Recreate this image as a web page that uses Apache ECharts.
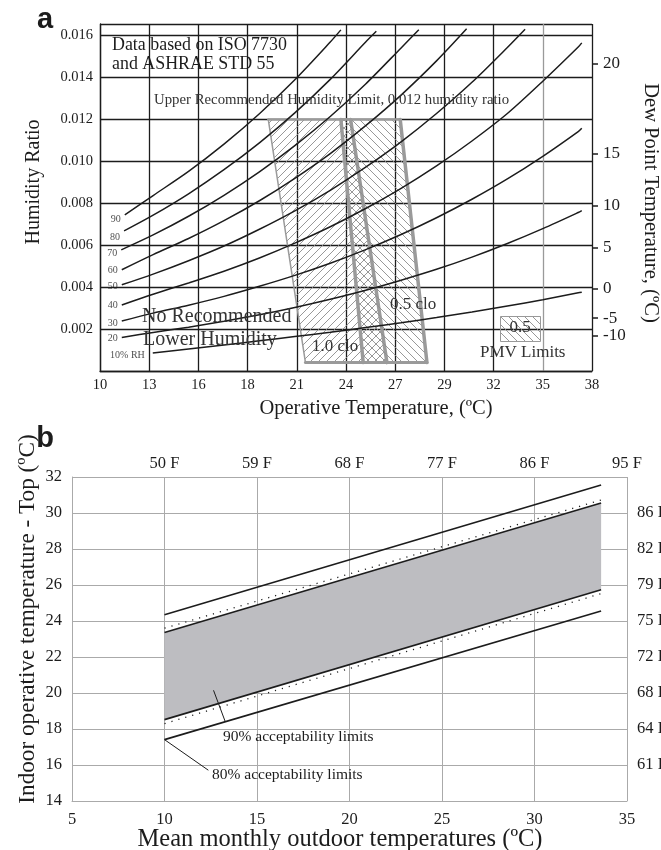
<!DOCTYPE html>
<html>
<head>
<meta charset="utf-8">
<script src="https://cdn.jsdelivr.net/npm/echarts@6/dist/echarts.min.js"></script>
<style>
  html, body { margin: 0; padding: 0; background: #fff; }
  #main { width: 661px; height: 850px; }
</style>
</head>
<body>
<div id="main"></div>
<script>
// ---------- panel a : psychrometric comfort chart ----------
// relative humidity curves, [operative temperature degC, humidity ratio]
const rh90 = [[11.4, 0.00745], [13, 0.00837], [15, 0.00952], [17, 0.01082], [19, 0.01227], [21, 0.01389], [23, 0.01569], [23.6, 0.01627]];
const rh80 = [[11.36, 0.00668], [13, 0.00743], [15, 0.00845], [17, 0.0096], [19, 0.01088], [21, 0.01231], [23, 0.01391], [25, 0.01569], [25.6, 0.0162]];
const rh70 = [[11.2, 0.00578], [13, 0.00649], [15, 0.00738], [17, 0.00838], [19, 0.0095], [21, 0.01075], [23, 0.01214], [25, 0.01369], [27, 0.01541], [28, 0.01628]];
const rh60 = [[11.23, 0.00483], [13, 0.00555], [15, 0.00632], [17, 0.00717], [19, 0.00812], [21, 0.00919], [23, 0.01037], [25, 0.0117], [27, 0.01316], [29, 0.01479], [30.7, 0.01632]];
const rh50 = [[11.23, 0.00411], [13, 0.00462], [15, 0.00526], [17, 0.00596], [19, 0.00676], [21, 0.00764], [23, 0.00862], [25, 0.00972], [27, 0.01093], [29, 0.01228], [31, 0.01377], [33, 0.01543], [34, 0.0163]];
const rh40 = [[11.23, 0.00315], [13, 0.00366], [15, 0.0042], [17, 0.00476], [19, 0.00539], [21, 0.0061], [23, 0.00688], [25, 0.00775], [27, 0.00871], [29, 0.00978], [31, 0.01097], [33, 0.01228], [35, 0.01382], [37, 0.01545], [37.2, 0.01565]];
const rh30 = [[11.23, 0.00238], [13, 0.00276], [15, 0.00314], [17, 0.00356], [19, 0.00404], [21, 0.00456], [23, 0.00514], [25, 0.00579], [27, 0.00651], [29, 0.00731], [31, 0.00819], [33, 0.00916], [35, 0.01024], [37, 0.01142], [37.2, 0.01158]];
const rh20 = [[11.23, 0.0016], [13, 0.00184], [15, 0.00209], [17, 0.00237], [19, 0.00268], [21, 0.00303], [23, 0.00342], [25, 0.00385], [27, 0.00433], [29, 0.00485], [31, 0.00543], [33, 0.00608], [35, 0.00679], [37, 0.00756], [37.2, 0.00765]];
const rh10 = [[12.98, 0.00086], [15, 0.00105], [17, 0.00124], [19, 0.00144], [21, 0.00164], [23, 0.00185], [25, 0.00207], [27, 0.0023], [29, 0.00255], [31, 0.00281], [33, 0.0031], [35, 0.0034], [37, 0.00373], [37.2, 0.00376]];
const rhCurves = [rh90, rh80, rh70, rh60, rh50, rh40, rh30, rh20, rh10];
const rhNames = ['90', '80', '70', '60', '50', '40', '30', '20', '10% RH'];

// comfort zones, corners [degC, humidity ratio]
const zone10clo = [[19.5, 0.012], [24.15, 0.012], [26.2, 0.0004], [21.6, 0.0004]];
const zone05clo = [[23.6, 0.012], [26.95, 0.012], [28.46, 0.0004], [24.86, 0.0004]];

// axis tick labels
const aTempTicks = ['10', '13', '16', '18', '21', '24', '27', '29', '32', '35', '38'];
const dewPointLabels = ['20', '15', '10', '5', '0', '-5', '-10'];
const dewPointW = [0.01465, 0.01036, 0.00788, 0.00589, 0.00391, 0.00252, 0.00169];

// ---------- panel b : adaptive comfort ----------
const outdoorT = [10, 33.6];
const upper80 = [24.35, 31.55];
const upper90 = [23.36, 30.56];
const upperDot = [23.6, 30.72];
const lower90 = [18.52, 25.74];
const lowerDot = [18.3, 25.52];
const lower80 = [17.41, 24.56];
const lead90 = [[12.65, 20.15], [13.29, 18.39]];
const lead80 = [[10, 17.41], [12.37, 15.71]];
const bTopTicks = ['50 F', '59 F', '68 F', '77 F', '86 F', '95 F'];
const bRightTicks = ['61 F', '64 F', '68 F', '72 F', '75 F', '79 F', '82 F', '86 F'];

const serif = '"Liberation Serif", "Times New Roman", serif';
const ink = '#1c1c1c';
const zoneGray = '#9a9a9a';

// diagonal hatch pattern, dir 1 = '/', -1 = '\'
function hatch(dir) {
  const s = 8;
  const c = document.createElement('canvas');
  c.width = s; c.height = s;
  const g = c.getContext('2d');
  g.strokeStyle = '#8c8c8c';
  g.lineWidth = 0.9;
  g.beginPath();
  if (dir > 0) {
    g.moveTo(-2, s + 2); g.lineTo(s + 2, -2);
    g.moveTo(-2, 2); g.lineTo(2, -2);
    g.moveTo(s - 2, s + 2); g.lineTo(s + 2, s - 2);
  } else {
    g.moveTo(-2, -2); g.lineTo(s + 2, s + 2);
    g.moveTo(s - 2, -2); g.lineTo(s + 2, 2);
    g.moveTo(-2, s - 2); g.lineTo(2, s + 2);
  }
  g.stroke();
  return { image: c, repeat: 'repeat' };
}
const hatchFwd = hatch(1);
const hatchBack = hatch(-1);

function zoneSeries(pts, fill, edgeW) {
  return {
    type: 'custom', xAxisIndex: 0, yAxisIndex: 0, z: 2, silent: true,
    data: pts,
    renderItem: function (params, api) {
      if (params.dataIndex !== 0) return null;
      const p = pts.map(d => api.coord(d));
      const kids = [{ type: 'polygon', shape: { points: p }, style: { fill: fill, stroke: null } }];
      for (let i = 0; i < p.length; i++) {
        const q = p[(i + 1) % p.length];
        kids.push({
          type: 'line',
          shape: { x1: p[i][0], y1: p[i][1], x2: q[0], y2: q[1] },
          style: { stroke: zoneGray, lineWidth: edgeW[i], lineCap: 'round' }
        });
      }
      return { type: 'group', children: kids };
    }
  };
}

function bLine(ys, dotted) {
  return {
    type: 'line', xAxisIndex: 2, yAxisIndex: 2, z: 4, silent: true,
    showSymbol: false,
    data: [[outdoorT[0], ys[0]], [outdoorT[1], ys[1]]],
    lineStyle: dotted ? { color: '#222', width: 1.3, type: [1.2, 6] } : { color: ink, width: 1.6 }
  };
}

function txt(x, y, s, size, extra) {
  const el = {
    type: 'text', x: x, y: y, z: 50,
    style: {
      text: s, fontSize: size, fontFamily: serif, fill: ink,
      align: 'left', verticalAlign: 'middle', textAlign: 'left', textVerticalAlign: 'middle'
    }
  };
  if (extra) {
    if (extra.style) Object.assign(el.style, extra.style);
    if (extra.rotation) el.rotation = extra.rotation;
  }
  return el;
}
const mid = { style: { align: 'center', textAlign: 'center' } };

const vColorsA = [ink, ink, ink, ink, ink, ink, ink, ink, ink, '#9a9a9a', ink];

const series = [];
series.push(zoneSeries(zone10clo, hatchFwd, [2.2, 3.5, 3, 1.5]));
series.push(zoneSeries(zone05clo, hatchBack, [2.2, 3.5, 3, 3.5]));
rhCurves.forEach(function (c) {
  series.push({
    type: 'line', xAxisIndex: 0, yAxisIndex: 0, z: 3, silent: true,
    smooth: 0.3, showSymbol: false, data: c,
    lineStyle: { color: ink, width: 1.5 }
  });
});
const rhDy = [5, 6, 4, 1, 2, 0, 2, 1, 2];
series.push({
  type: 'scatter', xAxisIndex: 0, yAxisIndex: 0, z: 5, silent: true, symbolSize: 0,
  data: rhCurves.map(function (c, i) {
    return {
      value: c[0],
      label: { show: true, formatter: rhNames[i], position: 'left', distance: i === 8 ? 8 : 4, offset: [0, rhDy[i]] }
    };
  }),
  label: { fontSize: 10, fontFamily: serif, color: ink }
});
// panel b
series.push({
  type: 'custom', xAxisIndex: 2, yAxisIndex: 2, z: 2, silent: true,
  data: [[outdoorT[0], lower90[0]]],
  renderItem: function (params, api) {
    const p = [
      api.coord([outdoorT[0], upper90[0]]), api.coord([outdoorT[1], upper90[1]]),
      api.coord([outdoorT[1], lower90[1]]), api.coord([outdoorT[0], lower90[0]])
    ];
    return { type: 'polygon', shape: { points: p }, style: { fill: '#bdbdc1' } };
  }
});
series.push(bLine(upper80), bLine(upper90), bLine(upperDot, true), bLine(lower90), bLine(lowerDot, true), bLine(lower80));
[lead90, lead80].forEach(function (d) {
  series.push({
    type: 'line', xAxisIndex: 2, yAxisIndex: 2, z: 4, silent: true, showSymbol: false,
    data: d, lineStyle: { color: ink, width: 1 }
  });
});

const labelA = { color: ink, fontFamily: serif, fontSize: 14.5 };
const labelB = { color: ink, fontFamily: serif, fontSize: 16.5 };

const option = {
  animation: false,
  backgroundColor: '#fff',
  grid: [
    { left: 100, top: 24, width: 492, height: 347, outerBoundsMode: 'none', containLabel: false },
    { left: 72, top: 477, width: 555, height: 324, outerBoundsMode: 'none', containLabel: false }
  ],
  xAxis: [
    { gridIndex: 0, type: 'value', min: 10, max: 37.778, position: 'top', show: false },
    {
      gridIndex: 0, type: 'value', min: 50, max: 100, interval: 5, position: 'bottom',
      axisLine: { show: true, lineStyle: { color: ink, width: 1.3 } },
      axisTick: { show: false },
      axisLabel: Object.assign({ margin: 7, formatter: v => aTempTicks[Math.round((v - 50) / 5)] }, labelA),
      splitLine: { show: true, lineStyle: { color: vColorsA, width: 1.3 } }
    },
    {
      gridIndex: 1, type: 'value', min: 5, max: 35, interval: 5, position: 'bottom',
      axisLine: { show: true, lineStyle: { color: '#aaa', width: 1 } },
      axisTick: { show: false },
      axisLabel: Object.assign({ margin: 10 }, labelB),
      splitLine: { show: true, lineStyle: { color: '#aaa', width: 1 } }
    },
    {
      gridIndex: 1, type: 'value', min: 5, max: 35, interval: 5, position: 'top',
      axisLine: { show: false }, axisTick: { show: false }, splitLine: { show: false },
      axisLabel: Object.assign({
        margin: 5, showMinLabel: false,
        formatter: v => v >= 10 ? bTopTicks[Math.round((v - 10) / 5)] : ''
      }, labelB)
    }
  ],
  yAxis: [
    {
      gridIndex: 0, type: 'value', min: 0, max: 0.01655, interval: 0.002, position: 'left',
      axisLine: { show: true, lineStyle: { color: ink, width: 1.3 } },
      axisTick: { show: false },
      axisLabel: Object.assign({ margin: 7, showMinLabel: false, showMaxLabel: false, formatter: v => v.toFixed(3) }, labelA),
      splitLine: { show: true, lineStyle: { color: ink, width: 1.3 } }
    },
    {
      gridIndex: 0, type: 'value', min: 0, max: 0.01655, position: 'right',
      axisLine: { show: false }, splitLine: { show: false },
      axisTick: { show: true, customValues: dewPointW, length: 6, lineStyle: { color: ink, width: 1.5 } },
      axisLabel: {
        customValues: dewPointW, margin: 11, color: ink, fontFamily: serif, fontSize: 17,
        formatter: function (v) {
          let best = 0;
          dewPointW.forEach((w, i) => { if (Math.abs(w - v) < Math.abs(dewPointW[best] - v)) best = i; });
          return dewPointLabels[best];
        }
      }
    },
    {
      gridIndex: 1, type: 'value', min: 14, max: 32, interval: 2, position: 'left',
      axisLine: { show: true, lineStyle: { color: '#aaa', width: 1 } },
      axisTick: { show: false },
      axisLabel: Object.assign({ margin: 10 }, labelB),
      splitLine: { show: true, lineStyle: { color: '#aaa', width: 1 } }
    },
    {
      gridIndex: 1, type: 'value', min: 14, max: 32, interval: 2, position: 'right',
      axisLine: { show: false }, axisTick: { show: false }, splitLine: { show: false },
      axisLabel: Object.assign({
        margin: 10, showMinLabel: false, showMaxLabel: false,
        formatter: v => (v >= 16 && v <= 30) ? bRightTicks[Math.round((v - 16) / 2)] : ''
      }, labelB)
    }
  ],
  series: series,
  graphic: [
    txt(45, 20, 'a', 29, { style: { align: 'center', textAlign: 'center', fontFamily: '"Liberation Sans", Arial, sans-serif', fontWeight: 'bold' } }),
    txt(112, 45, 'Data based on ISO 7730', 17.9),
    txt(112, 64, 'and ASHRAE STD 55', 17.9),
    txt(154, 100, 'Upper Recommended Humidity Limit, 0.012 humidity ratio', 14.8, { style: { fill: '#333' } }),
    txt(142, 317, 'No Recommended', 20, { style: { fill: '#333' } }),
    txt(143, 340, 'Lower Humidity', 20, { style: { fill: '#333' } }),
    txt(312, 347, '1.0 clo', 17, { style: { fill: '#333' } }),
    txt(390, 305, '0.5 clo', 17, { style: { fill: '#333' } }),
    {
      type: 'rect', z: 40, shape: { x: 500.5, y: 316.5, width: 40, height: 25 },
      style: { fill: hatchBack, stroke: '#999', lineWidth: 1 }
    },
    txt(520, 328, '0.5', 17, { style: { align: 'center', textAlign: 'center', fill: '#333' } }),
    txt(480, 353, 'PMV Limits', 17, { style: { fill: '#333' } }),
    txt(34, 182, 'Humidity Ratio', 20, { rotation: Math.PI / 2, style: mid.style }),
    txt(650, 203, 'Dew Point Temperature, (ºC)', 20.5, { rotation: -Math.PI / 2, style: mid.style }),
    txt(376, 409, 'Operative Temperature, (ºC)', 20.5, mid),

    txt(45, 439, 'b', 29, { style: { align: 'center', textAlign: 'center', fontFamily: '"Liberation Sans", Arial, sans-serif', fontWeight: 'bold' } }),
    txt(28, 619, 'Indoor operative temperature - Top (ºC)', 23.2, { rotation: Math.PI / 2, style: mid.style }),
    txt(340, 840, 'Mean monthly outdoor temperatures (ºC)', 24.5, mid),
    txt(223, 737, '90% acceptability limits', 15.5),
    txt(212, 775, '80% acceptability limits', 15.5)
  ]
};

const chart = echarts.init(document.getElementById('main'), null, { renderer: 'canvas' });
chart.setOption(option);
</script>
</body>
</html>
